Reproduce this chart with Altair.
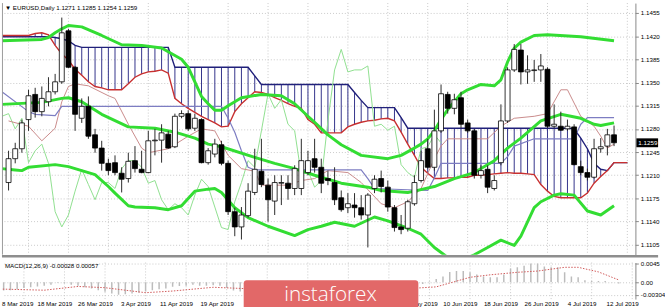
import altair as alt
import pandas as pd

# ---------------- data ----------------
bars = list(range(1, 93))
opens = [1.1199, 1.1235, 1.1250, 1.1294, 1.1332, 1.1306, 1.1321, 1.1336, 1.1351, 1.1428,
         1.1373, 1.1296, 1.1314, 1.1271, 1.1251, 1.1228, 1.1229, 1.1213, 1.1205, 1.1232,
         1.1219, 1.1214, 1.1262, 1.1263, 1.1272, 1.1253, 1.1299, 1.1303, 1.1281, 1.1294,
         1.1229, 1.1242, 1.1256, 1.1228, 1.1155, 1.1132, 1.1149, 1.1184, 1.1216, 1.1195,
         1.1171, 1.1198, 1.1198, 1.1190, 1.1190, 1.1214, 1.1235, 1.1222, 1.1205, 1.1199,
         1.1176, 1.1161, 1.1165, 1.1161, 1.1150, 1.1190, 1.1205, 1.1192, 1.1161, 1.1132,
         1.1130, 1.1167, 1.1202, 1.1250, 1.1222, 1.1277, 1.1332, 1.1311, 1.1327, 1.1289,
         1.1277, 1.1210, 1.1219, 1.1190, 1.1229, 1.1292, 1.1369, 1.1399, 1.1366, 1.1368,
         1.1369, 1.1370, 1.1284, 1.1284, 1.1280, 1.1283, 1.1223, 1.1214, 1.1207, 1.1250,
         1.1254, 1.1271]
highs = [1.1247, 1.1259, 1.1294, 1.1339, 1.1342, 1.1344, 1.1358, 1.1363, 1.1448, 1.1431,
         1.1375, 1.1326, 1.1329, 1.1280, 1.1262, 1.1235, 1.1240, 1.1222, 1.1244, 1.1254,
         1.1247, 1.1277, 1.1280, 1.1287, 1.1277, 1.1303, 1.1308, 1.1308, 1.1303, 1.1296,
         1.1251, 1.1265, 1.1262, 1.1232, 1.1161, 1.1162, 1.1198, 1.1250, 1.1265, 1.1205,
         1.1210, 1.1210, 1.1210, 1.1225, 1.1265, 1.1247, 1.1265, 1.1235, 1.1217, 1.1222,
         1.1187, 1.1183, 1.1183, 1.1180, 1.1183, 1.1210, 1.1217, 1.1202, 1.1165, 1.1150,
         1.1173, 1.1210, 1.1247, 1.1265, 1.1309, 1.1347, 1.1336, 1.1333, 1.1336, 1.1294,
         1.1280, 1.1225, 1.1225, 1.1210, 1.1317, 1.1373, 1.1408, 1.1408, 1.1391, 1.1384,
         1.1393, 1.1373, 1.1317, 1.1306, 1.1294, 1.1287, 1.1232, 1.1220, 1.1265, 1.1266,
         1.1280, 1.1285]
lows = [1.1187, 1.1228, 1.1244, 1.1277, 1.1297, 1.1299, 1.1314, 1.1332, 1.1348, 1.1372,
        1.1277, 1.1289, 1.1265, 1.1244, 1.1217, 1.1210, 1.1210, 1.1184, 1.1199, 1.1214,
        1.1213, 1.1213, 1.1240, 1.1229, 1.1250, 1.1251, 1.1296, 1.1277, 1.1277, 1.1228,
        1.1226, 1.1237, 1.1225, 1.1150, 1.1118, 1.1113, 1.1146, 1.1180, 1.1192, 1.1140,
        1.1150, 1.1165, 1.1173, 1.1180, 1.1180, 1.1210, 1.1214, 1.1183, 1.1195, 1.1165,
        1.1155, 1.1153, 1.1146, 1.1143, 1.1101, 1.1183, 1.1184, 1.1155, 1.1125, 1.1121,
        1.1125, 1.1164, 1.1199, 1.1220, 1.1217, 1.1274, 1.1303, 1.1302, 1.1281, 1.1274,
        1.1205, 1.1205, 1.1183, 1.1187, 1.1225, 1.1289, 1.1366, 1.1347, 1.1348, 1.1351,
        1.1351, 1.1281, 1.1281, 1.1277, 1.1277, 1.1225, 1.1210, 1.1202, 1.1205, 1.1244,
        1.1240, 1.1254]
closes = [1.1235, 1.1250, 1.1289, 1.1330, 1.1306, 1.1326, 1.1336, 1.1351, 1.1425, 1.1373,
          1.1302, 1.1314, 1.1269, 1.1251, 1.1228, 1.1217, 1.1214, 1.1204, 1.1231, 1.1220,
          1.1214, 1.1262, 1.1263, 1.1274, 1.1251, 1.1299, 1.1303, 1.1280, 1.1296, 1.1229,
          1.1247, 1.1257, 1.1228, 1.1155, 1.1132, 1.1150, 1.1186, 1.1219, 1.1196, 1.1173,
          1.1199, 1.1199, 1.1190, 1.1220, 1.1232, 1.1232, 1.1222, 1.1198, 1.1202, 1.1173,
          1.1158, 1.1167, 1.1161, 1.1150, 1.1180, 1.1204, 1.1193, 1.1162, 1.1131, 1.1128,
          1.1170, 1.1199, 1.1232, 1.1222, 1.1277, 1.1333, 1.1311, 1.1324, 1.1287, 1.1277,
          1.1210, 1.1217, 1.1192, 1.1202, 1.1292, 1.1369, 1.1400, 1.1366, 1.1369, 1.1369,
          1.1375, 1.1284, 1.1287, 1.1278, 1.1284, 1.1226, 1.1214, 1.1207, 1.1250, 1.1253,
          1.1271, 1.1259]

# Ichimoku cloud (bars 0..94)
cloud_bars = list(range(0, 95))
senkou_a = [1.1421, 1.1421, 1.1421, 1.1421, 1.1421, 1.1424, 1.1425, 1.1422, 1.1406, 1.1393,
            1.1384, 1.1370, 1.1361, 1.1351, 1.1344, 1.1342, 1.1339, 1.1339, 1.1339, 1.1348,
            1.1358, 1.1363, 1.1366, 1.1367, 1.1369, 1.1364, 1.1326, 1.1318, 1.1311, 1.1305,
            1.1299, 1.1294, 1.1289, 1.1283, 1.1284, 1.1306, 1.1318, 1.1327, 1.1336, 1.1335,
            1.1332, 1.1327, 1.1323, 1.1318, 1.1314, 1.1311, 1.1294, 1.1287, 1.1274, 1.1274,
            1.1274, 1.1274, 1.1283, 1.1287, 1.1290, 1.1292, 1.1293, 1.1295, 1.1296, 1.1292,
            1.1275, 1.1257, 1.1240, 1.1222, 1.1213, 1.1205, 1.1205, 1.1206, 1.1206, 1.1207,
            1.1207, 1.1210, 1.1210, 1.1211, 1.1212, 1.1213, 1.1214, 1.1213, 1.1213, 1.1212,
            1.1211, 1.1196, 1.1186, 1.1178, 1.1176, 1.1176, 1.1176, 1.1176, 1.1183, 1.1198,
            1.1208, 1.1217, 1.1229, 1.1229, 1.1229]
senkou_b = [1.1419, 1.1419, 1.1419, 1.1419, 1.1419, 1.1419, 1.1419, 1.1419, 1.1418, 1.1416,
            1.1413, 1.1406, 1.1403, 1.1403, 1.1403, 1.1403, 1.1403, 1.1403, 1.1403, 1.1403,
            1.1403, 1.1403, 1.1403, 1.1403, 1.1403, 1.1403, 1.1373, 1.1373, 1.1373, 1.1373,
            1.1373, 1.1373, 1.1373, 1.1373, 1.1373, 1.1373, 1.1373, 1.1373, 1.1360, 1.1347,
            1.1347, 1.1347, 1.1347, 1.1347, 1.1347, 1.1347, 1.1347, 1.1347, 1.1347, 1.1347,
            1.1347, 1.1347, 1.1347, 1.1335, 1.1323, 1.1312, 1.1312, 1.1312, 1.1312, 1.1312,
            1.1297, 1.1281, 1.1281, 1.1281, 1.1281, 1.1281, 1.1281, 1.1281, 1.1281, 1.1281,
            1.1281, 1.1281, 1.1281, 1.1281, 1.1281, 1.1281, 1.1281, 1.1281, 1.1281, 1.1281,
            1.1281, 1.1281, 1.1281, 1.1281, 1.1281, 1.1281, 1.1280, 1.1266, 1.1250, 1.1228,
            1.1219, 1.1217, 1.1229, 1.1229, 1.1229]

chikou_bars = list(range(0, 67))
chikou_vals = [1.1299, 1.1303, 1.1280, 1.1296, 1.1229, 1.1247, 1.1257, 1.1228, 1.1155, 1.1132,
               1.1150, 1.1186, 1.1219, 1.1196, 1.1173, 1.1199, 1.1199, 1.1190, 1.1220, 1.1232,
               1.1232, 1.1222, 1.1198, 1.1202, 1.1173, 1.1158, 1.1167, 1.1161, 1.1150, 1.1180,
               1.1204, 1.1193, 1.1162, 1.1131, 1.1128, 1.1170, 1.1199, 1.1232, 1.1222, 1.1277,
               1.1333, 1.1311, 1.1324, 1.1287, 1.1277, 1.1210, 1.1217, 1.1192, 1.1202, 1.1292,
               1.1369, 1.1400, 1.1366, 1.1369, 1.1369, 1.1375, 1.1284, 1.1287, 1.1278, 1.1284,
               1.1226, 1.1214, 1.1207, 1.1250, 1.1253, 1.1271, 1.1259]

tenkan_bars = [1, 4, 6, 8, 9, 10, 11, 13, 16, 17, 19, 21, 22, 25, 28, 30, 32, 34, 36, 38,
               39, 43, 45, 47, 49, 52, 54, 57, 59, 61, 63, 65, 66, 67, 73, 75, 77, 80, 82, 84,
               85, 87, 89, 90, 91, 92]
tenkan_vals = [1.1292, 1.1284, 1.1262, 1.1281, 1.1321, 1.1344, 1.1348, 1.1345, 1.1330, 1.1326,
               1.1287, 1.1251, 1.1244, 1.1250, 1.1269, 1.1280, 1.1277, 1.1240, 1.1220, 1.1216,
               1.1195, 1.1195, 1.1202, 1.1205, 1.1217, 1.1214, 1.1199, 1.1167, 1.1161, 1.1170,
               1.1190, 1.1235, 1.1254, 1.1265, 1.1265, 1.1284, 1.1296, 1.1299, 1.1303, 1.1339,
               1.1339, 1.1299, 1.1284, 1.1269, 1.1251, 1.1257]

kijun_bars = [0, 4, 5, 8, 9, 33, 34, 35, 36, 37, 38, 54, 55, 56, 64, 65, 66, 75, 76, 77,
              80, 86, 87, 88, 92]
kijun_vals = [1.1336, 1.1306, 1.1302, 1.1300, 1.1314, 1.1314, 1.1296, 1.1275, 1.1247, 1.1222,
              1.1218, 1.1218, 1.1205, 1.1190, 1.1187, 1.1206, 1.1228, 1.1228, 1.1238, 1.1254,
              1.1265, 1.1265, 1.1287, 1.1297, 1.1297]

bb_up_bars = [0, 6, 7, 8, 9, 10, 12, 15, 18, 21, 24, 27, 28, 29, 30, 31, 32, 33, 34, 36,
              39, 42, 44, 46, 47, 49, 51, 54, 58, 60, 62, 63, 64, 65, 66, 67, 68, 69, 70, 72,
              74, 75, 76, 77, 78, 80, 82, 87, 92]
bb_up_vals = [1.1413, 1.1415, 1.1418, 1.1425, 1.1431, 1.1436, 1.1434, 1.1421, 1.1407, 1.1406,
              1.1402, 1.1385, 1.1373, 1.1351, 1.1329, 1.1318, 1.1308, 1.1308, 1.1315, 1.1327,
              1.1332, 1.1330, 1.1318, 1.1299, 1.1290, 1.1271, 1.1256, 1.1240, 1.1235, 1.1240,
              1.1251, 1.1257, 1.1265, 1.1277, 1.1294, 1.1309, 1.1321, 1.1333, 1.1339, 1.1347,
              1.1345, 1.1354, 1.1381, 1.1402, 1.1411, 1.1421, 1.1422, 1.1419, 1.1413]
bb_mid_bars = [0, 6, 9, 10, 12, 15, 19, 23, 26, 29, 31, 33, 38, 41, 44, 47, 48, 51, 55, 57,
               61, 62, 65, 68, 71, 74, 76, 78, 81, 84, 87, 89, 90, 92]
bb_mid_vals = [1.1317, 1.1320, 1.1326, 1.1327, 1.1321, 1.1302, 1.1283, 1.1281, 1.1275, 1.1266,
               1.1257, 1.1253, 1.1237, 1.1228, 1.1220, 1.1210, 1.1207, 1.1198, 1.1192, 1.1187,
               1.1184, 1.1186, 1.1193, 1.1205, 1.1214, 1.1232, 1.1251, 1.1266, 1.1292, 1.1302,
               1.1296, 1.1287, 1.1285, 1.1289]
bb_lo_bars = [0, 2, 3, 4, 8, 10, 12, 14, 16, 17, 19, 20, 23, 25, 27, 29, 31, 32, 33, 35,
              37, 40, 44, 46, 48, 50, 53, 56, 58, 61, 63, 65, 67, 69, 71, 73, 75, 77, 78, 80,
              81, 83, 84, 86, 88, 90, 92]
bb_lo_vals = [1.1220, 1.1218, 1.1217, 1.1222, 1.1226, 1.1223, 1.1217, 1.1211, 1.1193, 1.1183,
              1.1164, 1.1162, 1.1161, 1.1158, 1.1164, 1.1186, 1.1189, 1.1190, 1.1184, 1.1161,
              1.1146, 1.1133, 1.1119, 1.1128, 1.1133, 1.1139, 1.1133, 1.1147, 1.1141, 1.1130,
              1.1121, 1.1101, 1.1086, 1.1081, 1.1090, 1.1101, 1.1112, 1.1104, 1.1118, 1.1161,
              1.1170, 1.1180, 1.1182, 1.1180, 1.1156, 1.1150, 1.1164]

macd_vals = [-0.0020, -0.0019, -0.0017, -0.0014, -0.0012, -0.0010, -0.0008, -0.0006, -0.0001, -0.0002,
             -0.0006, -0.0008, -0.0012, -0.0015, -0.0019, -0.0023, -0.0027, -0.0030, -0.0029, -0.0027,
             -0.0025, -0.0022, -0.0019, -0.0017, -0.0015, -0.0011, -0.0009, -0.0008, -0.0006, -0.0008,
             -0.0008, -0.0007, -0.0008, -0.0014, -0.0020, -0.0022, -0.0021, -0.0018, -0.0017, -0.0018,
             -0.0017, -0.0016, -0.0016, -0.0014, -0.0012, -0.0010, -0.0009, -0.0010, -0.0010, -0.0012,
             -0.0014, -0.0015, -0.0016, -0.0017, -0.0015, -0.0012, -0.0011, -0.0012, -0.0015, -0.0017,
             -0.0014, -0.0009, -0.0004, 0.0002, 0.0008, 0.0014, 0.0025, 0.0027, 0.0027, 0.0024,
             0.0019, 0.0014, 0.0012, 0.0012, 0.0019, 0.0033, 0.0036, 0.0040, 0.0045, 0.0045,
             0.0038, 0.0036, 0.0036, 0.0024, 0.0014, 0.0012, 0.0005, 0.0003, 0.0003, 0.0003,
             0.0001, -0.00028]
signal_bars = [0, 7, 12, 16, 22, 26, 32, 38, 44, 50, 56, 62, 65, 70, 73, 77, 80, 84, 86, 89, 92]
signal_vals = [-0.0016, -0.0019, -0.0010, -0.0013, -0.0025, -0.0021, -0.0012, -0.0016, -0.0017,
               -0.0012, -0.0014, -0.0014, -0.0011, 0.0012, 0.0018, 0.0024, 0.0027, 0.0036,
               0.0036, 0.0025, 0.00057]

price_ticks = [1.1105, 1.1140, 1.1175, 1.1210, 1.1245, 1.1280, 1.1315, 1.1350, 1.1385, 1.1420, 1.1455]
macd_ticks = [0.0045, 0.0, -0.00304]
macd_tick_labels = ["0.0045", "0.00", "-0.00304"]
# date labels that are visible (the ones under the watermark are hidden in the reference)
date_label_bars = [2, 8, 14, 20, 26, 32, 62, 68, 74, 80, 86, 92]
date_labels = ["8 Mar 2019", "18 Mar 2019", "26 Mar 2019", "3 Apr 2019", "11 Apr 2019",
               "19 Apr 2019", "31 May 2019", "10 Jun 2019", "18 Jun 2019", "26 Jun 2019",
               "4 Jul 2019", "12 Jul 2019"]
grid_bars = [4, 10, 16, 22, 28, 34, 40, 46, 52, 58, 64, 70, 76, 82, 88, 94]
header_text = ["\u25bc EURUSD,Daily  1.1271 1.1285 1.1254 1.1259"]
macd_text = ["MACD(12,26,9) -0.00028 0.00057"]
last_price = [1.1259]
last_price_text = ["1.1259"]
brand = ["instaforex"]

# ---------------- chart ----------------
W, H_MAIN, H_MACD = 642, 255, 37
FONT = "Liberation Sans"
FS = 6.3
GRID = "#c9c9c9"

xs = alt.Scale(domain=[0.752, 94.47], nice=False, zero=False)
ys = alt.Scale(domain=[1.10901, 1.14699], nice=False, zero=False)
ms = alt.Scale(domain=[-0.00403, 0.00474], nice=False, zero=False)
X = alt.X("bar:Q", scale=xs, axis=None)

y_axis = alt.Axis(orient="right", values=price_ticks, format=".4f", title=None,
                  labelFont=FONT, labelFontSize=FS, labelColor="#000", labelPadding=2,
                  tickSize=3, tickColor="#888", domainColor="#888",
                  grid=True, gridColor=GRID, gridDash=[1, 2])

candles = pd.DataFrame({"bar": bars, "open": opens, "high": highs, "low": lows, "close": closes})
cloud = pd.DataFrame({"bar": cloud_bars, "a": senkou_a, "b": senkou_b})


def ldf(b, v):
    return pd.DataFrame({"bar": b, "v": v})


def Y(field):
    return alt.Y(field, scale=ys, axis=y_axis)


def ind(b, v, color, w):
    return alt.Chart(ldf(b, v)).mark_line(color=color, strokeWidth=w, clip=True,
                                          strokeJoin="round").encode(x=X, y=Y("v:Q"))


vgrid = alt.Chart(pd.DataFrame({"bar": grid_bars})).mark_rule(
    color=GRID, strokeDash=[1, 2], strokeWidth=1).encode(x=X)

hatch = alt.Chart(cloud).mark_rule(color="#33338a", strokeWidth=1, clip=True).encode(
    x=X, y=Y("a:Q"), y2="b:Q")
span_a = alt.Chart(cloud).mark_line(color="#c83030", strokeWidth=1.4, clip=True).encode(
    x=X, y=Y("a:Q"))
span_b = alt.Chart(cloud).mark_line(color="#20207a", strokeWidth=1.4, clip=True).encode(
    x=X, y=Y("b:Q"))

chikou = ind(chikou_bars, chikou_vals, "#8fe08f", 1)
tenkan = ind(tenkan_bars, tenkan_vals, "#c98a8a", 1)
kijun = ind(kijun_bars, kijun_vals, "#7d7dc2", 1.2)
bb_up = ind(bb_up_bars, bb_up_vals, "#33dd33", 3)
bb_mid = ind(bb_mid_bars, bb_mid_vals, "#33dd33", 3)
bb_lo = ind(bb_lo_bars, bb_lo_vals, "#33dd33", 3)

wick = alt.Chart(candles).mark_rule(color="#2a2a2a", strokeWidth=1, clip=True).encode(
    x=X, y=Y("low:Q"), y2="high:Q")
body = alt.Chart(candles).mark_bar(size=5, stroke="#000", strokeWidth=0.8, clip=True).encode(
    x=X, y=Y("open:Q"), y2="close:Q",
    fill=alt.condition("datum.close >= datum.open", alt.value("white"), alt.value("black")))

header = alt.Chart(pd.DataFrame({"t": header_text})).mark_text(
    align="left", baseline="middle", font=FONT, fontSize=FS, color="#000").encode(
    x=alt.value(3), y=alt.value(5), text="t:N")

sep = alt.Chart(pd.DataFrame({"t": ["sep"]})).mark_rule(color="#8e8e8e", strokeWidth=2.5).encode(
    x=alt.value(0), x2=alt.value(665), y=alt.value(256.5))
left_border = alt.Chart(pd.DataFrame({"t": ["b"]})).mark_rule(color="#9a9a9a", strokeWidth=1).encode(
    x=alt.value(0.5), y=alt.value(0), y2=alt.value(255))

tag_df = pd.DataFrame({"p": last_price, "t": last_price_text})
tag = alt.Chart(tag_df).mark_rule(color="#000", strokeWidth=9).encode(
    x=alt.value(643), x2=alt.value(665), y=Y("p:Q"))
tag_txt = alt.Chart(tag_df).mark_text(color="white", align="left", baseline="middle",
                                      font=FONT, fontSize=FS).encode(
    x=alt.value(645), y=Y("p:Q"), text="t:N")

main = alt.layer(vgrid, hatch, span_b, span_a, chikou, tenkan, kijun, bb_up, bb_mid, bb_lo,
                 wick, body, header, sep, left_border, tag, tag_txt).properties(
    width=W, height=H_MAIN)

# MACD panel
expr = ""
for v, l in zip(macd_ticks, macd_tick_labels):
    expr += f"abs(datum.value - ({v})) < 1e-7 ? '{l}' : "
expr += "''"
m_axis = alt.Axis(orient="right", values=macd_ticks, labelExpr=expr, title=None,
                  labelFont=FONT, labelFontSize=FS, labelColor="#000", labelPadding=2,
                  tickSize=3, tickColor="#888", domainColor="#888",
                  grid=True, gridColor=GRID, gridDash=[1, 2])

macd_df = pd.DataFrame({"bar": bars, "m": macd_vals})
vgrid2 = alt.Chart(pd.DataFrame({"bar": grid_bars})).mark_rule(
    color=GRID, strokeDash=[1, 2], strokeWidth=1).encode(x=X)
hist = alt.Chart(macd_df).mark_rule(color="#bcbcbc", strokeWidth=1.5, clip=True).encode(
    x=X, y=alt.Y("m:Q", scale=ms, axis=m_axis), y2=alt.datum(0))
signal = alt.Chart(ldf(signal_bars, signal_vals)).mark_line(
    color="#d05a5a", strokeDash=[1.5, 1.5], strokeWidth=1, clip=True).encode(
    x=X, y=alt.Y("v:Q", scale=ms, axis=m_axis))
mtxt = alt.Chart(pd.DataFrame({"t": macd_text})).mark_text(
    align="left", baseline="middle", font=FONT, fontSize=FS, color="#000").encode(
    x=alt.value(3), y=alt.value(4), text="t:N")

lab_df = pd.DataFrame({"bar": date_label_bars, "label": date_labels})
xlab = alt.Chart(lab_df).transform_filter("datum.bar > 2").mark_text(
    align="center", baseline="middle", font=FONT, fontSize=FS, color="#000", dx=4).encode(
    x=X, y=alt.value(42), text="label:N")
xlab0 = alt.Chart(lab_df).transform_filter("datum.bar <= 2").mark_text(
    align="left", baseline="middle", font=FONT, fontSize=FS, color="#000").encode(
    x=alt.value(0), y=alt.value(42), text="label:N")

wm_df = pd.DataFrame({"t": brand})
wm_rect = alt.Chart(wm_df).mark_rect(color="#e26868", cornerRadiusTopLeft=3,
                                     cornerRadiusTopRight=3).encode(
    x=alt.value(245), x2=alt.value(422), y=alt.value(18), y2=alt.value(49))
wm_txt = alt.Chart(wm_df).mark_text(color="white", font="Open Sans", fontSize=21,
                                    fontWeight=300, align="center", baseline="middle").encode(
    x=alt.value(333), y=alt.value(33), text="t:N")

macd = alt.layer(vgrid2, hist, signal, mtxt, xlab, xlab0, wm_rect, wm_txt).properties(
    width=W, height=H_MACD)

chart = alt.vconcat(main, macd, spacing=3).resolve_scale(
    x="independent", y="independent").properties(
    padding=0, background="white").configure_view(stroke=None)

chart.save("out.html", embed_options={"renderer": "svg", "actions": False})
